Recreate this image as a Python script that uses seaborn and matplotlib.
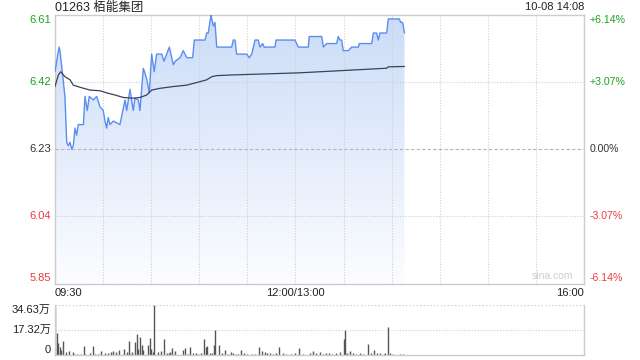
import numpy as np
import pandas as pd
import matplotlib
matplotlib.use("Agg")
import matplotlib.pyplot as plt
import matplotlib.transforms as mtrans
import seaborn as sns

# ---------------- data ----------------
title = "01263 栢能集团"
stamp = "10-08 14:08"
prev_close = 6.23

# trading minutes since 09:30 (morning 0-150, afternoon 150-330)
price_t = [0, 2.5, 3.1, 6.2, 7.3, 8.3, 9.4, 10.4, 11.4, 12.5, 13.5, 14.5, 17.7, 18.7,
           20.1, 21.4, 23.9, 26, 28.1, 30.1, 31.2, 32.2, 33.2, 34.3, 36.4, 40.5, 43.7,
           44.7, 46.8, 48.8, 49.9, 52, 53, 55.1, 57.2, 58.8, 60.3, 61.9, 63.4, 66.6, 68,
           71.3, 73.8, 75, 78, 80, 82.2, 85.9, 86.9, 90.5, 93.6, 94.6, 95.6, 97.3, 97.8,
           98.8, 99.8, 100.9, 110.2, 111.2, 112.3, 113.3, 119.6, 121.2, 122.7, 124.8,
           126.8, 127.9, 129.6, 130.4, 137.2, 137.9, 149.7, 151.8, 158, 158.6, 166.4,
           167.4, 169.5, 175.7, 176.7, 177.8, 178.8, 179.8, 183, 185.1, 189.2, 189.8,
           197.6, 198.6, 200.6, 201.7, 202.7, 206.9, 207.9, 214.8, 215.7, 216.9, 218]
price_v = [6.45, 6.52, 6.51, 6.38, 6.25, 6.24, 6.25, 6.23, 6.24, 6.29, 6.27, 6.30, 6.30, 6.38,
           6.34, 6.38, 6.37, 6.38, 6.35, 6.34, 6.31, 6.29, 6.32, 6.30, 6.31, 6.30, 6.37,
           6.34, 6.40, 6.34, 6.375, 6.37, 6.34, 6.46, 6.43, 6.39, 6.50, 6.45, 6.50, 6.50, 6.48,
           6.52, 6.47, 6.48, 6.49, 6.51, 6.49, 6.49, 6.54, 6.54, 6.54, 6.56, 6.56, 6.61, 6.60,
           6.58, 6.59, 6.52, 6.52, 6.54, 6.54, 6.50, 6.50, 6.49, 6.50, 6.54,
           6.54, 6.52, 6.53, 6.52, 6.52, 6.54, 6.54, 6.52, 6.52, 6.55, 6.55,
           6.52, 6.53, 6.53, 6.55, 6.54, 6.54, 6.51, 6.51, 6.52, 6.52, 6.53,
           6.53, 6.56, 6.56, 6.54, 6.56, 6.56, 6.60, 6.60, 6.59, 6.59, 6.56]

avg_t = [0, 2.1, 3.6, 6.2, 9.4, 11.4, 15.6, 21.8, 28.1, 32.3, 37.4, 42.6, 48.8, 53, 57.2,
         60.3, 65.5, 73.8, 82.2, 90.5, 94.6, 97.8, 100.9, 111, 132, 152.8, 177.8, 194.4,
         206.9, 207.9, 218]
avg_v = [6.408, 6.441, 6.450, 6.436, 6.427, 6.412, 6.406, 6.398, 6.396, 6.390, 6.384,
         6.377, 6.375, 6.377, 6.384, 6.398, 6.403, 6.408, 6.412, 6.422, 6.427, 6.436,
         6.439, 6.441, 6.444, 6.447, 6.453, 6.457, 6.460, 6.464, 6.465]

# volume in 万 shares
vol_t = [0, 1, 2, 3, 4, 5, 7, 9, 11, 12, 14, 16, 18, 19, 22, 24, 25, 27, 29, 31, 33, 35,
         36, 38, 40, 43, 45, 46, 47, 48, 50, 51, 52, 53, 54, 55, 58, 59, 60, 61, 62, 64,
         66, 68, 70, 71, 72, 73, 75, 80, 81, 83, 84, 86, 88, 89, 91, 93, 94, 95, 97, 98,
         99, 100, 102, 104, 106, 108, 110, 111, 113, 114, 116, 118, 120, 123, 125, 127,
         129, 131, 132, 134, 136, 138, 140, 142, 144, 147, 150, 152, 155, 159, 161, 163,
         165, 167, 169, 171, 173, 175, 178, 180, 181, 182, 184, 186, 188, 190, 192, 195,
         197, 199, 201, 203, 205, 206, 208, 209, 211, 213, 215, 217]
vol_v = [33.0, 15.0, 8.5, 5.8, 3.5, 9.9, 2.3, 3.0, 1.8, 0.8, 1.0, 0.6, 6.2, 0.9, 1.6,
         6.2, 0.7, 0.7, 2.6, 1.1, 1.1, 1.8, 2.6, 2.1, 3.5, 4.4, 2.1, 9.9, 0.7, 1.8, 9.0,
         14.5, 4.0, 12.7, 6.9, 3.5, 6.9, 12.0, 4.2, 2.1, 34.63, 1.8, 2.8, 11.1, 1.1, 1.6,
         1.8, 4.6, 2.8, 3.5, 4.6, 0.7, 5.8, 1.6, 1.1, 0.7, 1.1, 11.1, 5.8, 6.5, 1.1, 1.6,
         6.9, 17.3, 6.9, 1.6, 3.5, 0.7, 1.8, 1.1, 0.7, 0.7, 3.5, 1.1, 0.7, 0.7, 0.7, 5.5,
         2.8, 2.1, 1.6, 1.1, 0.7, 1.6, 5.5, 1.1, 0.7, 0.7, 1.6, 4.8, 0.7, 1.1, 2.8, 1.1,
         2.1, 0.7, 1.6, 1.1, 0.7, 1.1, 2.1, 11.1, 17.3, 1.6, 2.8, 1.1, 0.7, 1.6, 0.9, 7.6,
         1.1, 3.5, 1.1, 1.6, 0.7, 1.1, 19.6, 1.6, 0.7, 0.3, 0.5, 0.7]

pct_ticks = [0.0614, 0.0307, 0.0, -0.0307, -0.0614]
price_ticks = [6.61, 6.42, 6.23, 6.04, 5.85]
pct_labels = ["+6.14%", "+3.07%", "0.00%", "-3.07%", "-6.14%"]
vol_ticks = [34.63, 17.32, 0]
vol_labels = ["34.63万", "17.32万", "0"]
x_ticks = [0, 150, 330]
x_labels = ["09:30", "12:00/13:00", "16:00"]

# ---------------- style ----------------
sns.set_theme(style="white")
plt.rcParams['font.family'] = ['Liberation Sans', 'Noto Sans CJK SC', 'DejaVu Sans']

GREEN = "#1aa31a"
RED = "#f03a3a"
GRID = "#cfcfcf"
LINE = "#5a8ef0"
AVG = "#3a4256"

fig = plt.figure(figsize=(6.4, 3.6), dpi=100)
ax = fig.add_axes([55/640, 1-284/360, 529/640, (284-14.5)/360])
axv = fig.add_axes([55/640, 1-355/360, 529/640, 50/360])

ylo = prev_close * (1 + pct_ticks[-1])
yhi = prev_close * (1 + pct_ticks[0])
ax.set_xlim(0, 330)
ax.set_ylim(ylo, yhi)

# gradient fill under price
poly = ax.fill_between(price_t, price_v, ylo, color="none", lw=0)
grad = np.linspace(0, 1, 256).reshape(-1, 1)
top_c = np.array([203, 220, 248]) / 255
bot_c = np.array([252, 253, 255]) / 255
img = top_c[None, None, :] * (1 - grad[:, :, None]) + bot_c[None, None, :] * grad[:, :, None]
im = ax.imshow(img, extent=[0, 330, ylo, yhi], aspect="auto", origin="upper", zorder=1)
path = poly.get_paths()[0]
im.set_clip_path(path, transform=ax.transData)

# grid
for xv in range(30, 330, 30):
    ax.axvline(xv, color=GRID, lw=0.8, ls=(0, (1, 1.5)), zorder=2)
for yv in [price_ticks[1], price_ticks[3]]:
    ax.axhline(yv, color=GRID, lw=0.8, ls=(0, (1, 1.5)), zorder=2)
ax.axhline(prev_close, color="#b5b5b5", lw=0.8, ls=(0, (3, 2)), zorder=2)

df_p = pd.DataFrame({"t": price_t, "p": price_v})
df_a = pd.DataFrame({"t": avg_t, "p": avg_v})
sns.lineplot(data=df_p, x="t", y="p", ax=ax, color=LINE, lw=1.0, estimator=None, zorder=4)
sns.lineplot(data=df_a, x="t", y="p", ax=ax, color=AVG, lw=0.9, estimator=None, zorder=5)

ax.set_xlabel("")
ax.set_ylabel("")
ax.set_yticks(price_ticks)
ax.set_yticklabels([f"{v:.2f}" for v in price_ticks])
cols = [GREEN, GREEN, "#333333", RED, RED]
vas = ["top", "center", "center", "center", "bottom"]
for lab, c, va in zip(ax.get_yticklabels(), cols, vas):
    lab.set_color(c)
    lab.set_va(va)
    lab.set_fontsize(8)
ax.set_xticks(x_ticks)
ax.set_xticklabels(x_labels)
for lab, ha in zip(ax.get_xticklabels(), ["left", "center", "right"]):
    lab.set_ha(ha)
    lab.set_fontsize(8)
    lab.set_color("#222222")
ax.tick_params(axis="both", length=0, pad=3)

# right-hand percentage labels
trans = mtrans.blended_transform_factory(ax.transAxes, ax.transData)
for yv, lab, c, va in zip(price_ticks, pct_labels, cols, vas):
    ax.text(1 + 6/529, yv, lab, transform=trans, color=c, fontsize=7.6,
            ha="left", va=va, clip_on=False)

for s in ax.spines.values():
    s.set_color("#cccccc")
    s.set_linewidth(1)

# watermark (axes fraction)
ax.text(0.94, 0.012, "sina.com", transform=ax.transAxes, color="#cccccc",
        fontsize=7.5, ha="center", va="bottom", zorder=6)

fig.text(55/640, 1-7.5/360, title, fontsize=9, color="#222222", ha="left", va="center")
fig.text(584/640, 1-7.5/360, stamp, fontsize=8, color="#222222", ha="right", va="center")

# volume
axv.set_xlim(0, 330)
axv.set_ylim(0, 34.63)
axv.vlines(vol_t, 0, vol_v, color="#555555", lw=1.0)
axv.axhline(17.32, color=GRID, lw=0.8, ls=(0, (1, 1.5)))
axv.axhline(34.63, color=GRID, lw=1.0, ls=(0, (1, 1.5)))
axv.set_yticks(vol_ticks)
axv.set_yticklabels(vol_labels)
for lab, va in zip(axv.get_yticklabels(), ["top", "center", "bottom"]):
    lab.set_va(va)
    lab.set_fontsize(8)
    lab.set_color("#222222")
axv.set_xticks([])
axv.tick_params(axis="y", length=0, pad=3)
for k, s in axv.spines.items():
    s.set_color("#cccccc")
    s.set_linewidth(1)
axv.spines["top"].set_visible(False)

fig.savefig("out.png", dpi=100)
